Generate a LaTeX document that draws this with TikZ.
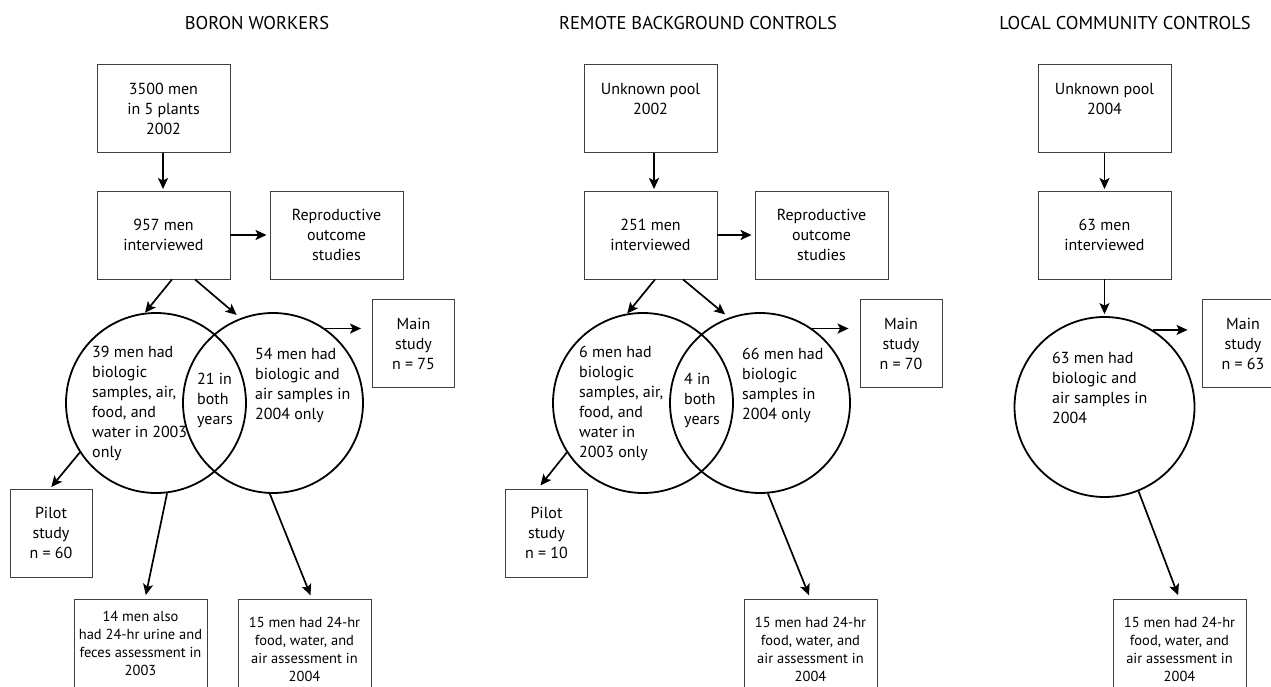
\documentclass[tikz,border=0pt]{standalone}
\usepackage{fontspec}
\setmainfont{PT Sans}
\usetikzlibrary{arrows.meta}
\begin{document}
\begin{tikzpicture}[x=1pt,y=-1pt,
 box/.style={draw=black!75, line width=0.9pt, minimum width=133pt, minimum height=88pt, align=center, inner sep=0pt, font=\fontsize{16}{20}\selectfont},
 sbox/.style={box, minimum width=82pt},
 bbox/.style={draw=black!75, line width=0.9pt, minimum width=133pt, minimum height=100pt, anchor=north, inner sep=0pt},
 btxt/.style={align=center, inner sep=0pt, font=\fontsize{14.5}{18}\selectfont},
 ctxt/.style={align=left, anchor=west, inner sep=0pt, font=\fontsize{16}{20}\selectfont},
 ttl/.style={font=\fontsize{18.5}{22}\selectfont, inner sep=0pt},
 venn/.style={circle, draw, line width=1.8pt, minimum size=180pt, inner sep=0pt},
 arr/.style={-{Stealth[length=11pt,width=10pt,inset=2.5pt]}, line width=1.7pt},
]
\useasboundingbox (0,0) rectangle (1271,687);
\clip (0,0) rectangle (1271,687);

% ---------------- BORON WORKERS ----------------
\node[ttl] (t1) at (257,23) {BORON WORKERS};
\node[box] (a1) at (163.5,108.5) {3500 men\\in 5 plants\\2002};
\node[box] (a2) at (163.5,235) {957 men\\interviewed};
\node[box] (a3) at (336.5,235) {Reproductive\\outcome\\studies};
\node[venn] (ac1) at (156,403) {};
\node[venn] (ac2) at (273,403) {};
\node[ctxt] (at1) at (92,403) {39 men had\\biologic\\samples, air,\\food, and\\water in 2003\\only};
\node[ctxt] (at2) at (197,400) {21 in\\both\\years};
\node[ctxt] (at3) at (255,385) {54 men had\\biologic and\\air samples in\\2004 only};
\node[sbox] (am) at (413.5,343.5) {Main\\study\\n = 75};
\node[sbox] (ap) at (51,533) {Pilot\\study\\n = 60};
\node[bbox] (ab1) at (140.5,599) {};
\node[btxt] (abt1) at (140.5,643) {14 men also\\had 24-hr urine and\\feces assessment in\\2003};
\node[bbox] (ab2) at (304.5,599) {};
\node[btxt] (abt2) at (304.5,649.5) {15 men had 24-hr\\food, water, and\\air assessment in\\2004};

\draw[arr, shorten >=1.5pt] ([xshift=-0.5pt]a1.south) -- ([xshift=-0.5pt]a2.north);
\draw[arr, shorten >=3pt] (a2.east) -- (a3.west);
\draw[arr] ([xshift=8.5pt]a2.south) -- (ac1.97);
\draw[arr, shorten >=5pt] ([xshift=31.5pt]a2.south) -- (ac2.111);
\draw[arr, shorten >=11pt] (ac2.55) -- (ac2.55 -| am.west);
\draw[arr, shorten >=2pt] (ac1.213) -- ([xshift=-1pt]ap.north);
\draw[arr, shorten >=4pt] (ac1.277) -- ([xshift=4.5pt]ab1.north);
\draw[arr, shorten >=4pt] (ac2.268) -- ([xshift=7.5pt]ab2.north);

% ---------------- REMOTE BACKGROUND CONTROLS ----------------
\node[ttl] (t2) at (698,23) {REMOTE BACKGROUND CONTROLS};
\node[box] (r1) at (650.5,108.5) {Unknown pool\\2002\\\mbox{}};
\node[box] (r2) at (650.5,235) {251 men\\interviewed};
\node[box] (r3) at (821.5,235) {Reproductive\\outcome\\studies};
\node[venn] (rc1) at (643,403) {};
\node[venn] (rc2) at (760,403) {};
\node[ctxt] (rt1) at (579,403) {6 men had\\biologic\\samples, air,\\food, and\\water in\\2003 only};
\node[ctxt] (rt2) at (684,400) {4 in\\both\\years};
\node[ctxt] (rt3) at (742,385) {66 men had\\biologic\\samples in\\2004 only};
\node[sbox] (rm) at (901,343.5) {Main\\study\\n = 70};
\node[sbox] (rp) at (546.5,533) {Pilot\\study\\n = 10};
\node[bbox] (rb) at (810.5,599) {};
\node[btxt] (rbt) at (810.5,649.5) {15 men had 24-hr\\food, water, and\\air assessment in\\2004};

\draw[arr, shorten >=1.5pt] ([xshift=3.5pt]r1.south) -- ([xshift=3.5pt]r2.north);
\draw[arr, shorten >=3pt] (r2.east) -- (r3.west);
\draw[arr] ([xshift=4.5pt]r2.south) -- (rc1.100);
\draw[arr, shorten >=5pt] ([xshift=32.5pt]r2.south) -- (rc2.110);
\draw[arr, shorten >=11pt] (rc2.55) -- (rc2.55 -| rm.west);
\draw[arr, shorten >=4pt] (rc1.213) -- ([xshift=-8.5pt]rp.north);
\draw[arr, shorten >=4pt] (rc2.275) -- (rb.north);

% ---------------- LOCAL COMMUNITY CONTROLS ----------------
\node[ttl] (t3) at (1125,23) {LOCAL COMMUNITY CONTROLS};
\node[box] (l1) at (1104.5,108.5) {Unknown pool\\2004\\\mbox{}};
\node[box] (l2) at (1104.5,235) {63 men\\interviewed};
\node[venn] (lc) at (1104.5,407) {};
\node[ctxt] (lt) at (1052,388) {63 men had\\biologic and\\air samples in\\2004};
\node[sbox] (lm) at (1243,343.5) {Main\\study\\n = 63};
\node[bbox] (lb) at (1179.5,599) {};
\node[btxt] (lbt) at (1179.5,649.5) {15 men had 24-hr\\food, water, and\\air assessment in\\2004};

\draw[arr, shorten >=1.5pt] (l1.south) -- (l2.north);
\draw[arr, shorten >=2pt] (l2.south) -- (lc.north);
\draw[arr, shorten >=14pt] (lc.58) -- (lc.58 -| lm.west);
\draw[arr, shorten >=4pt] (lc.292) -- (lb.north);
\end{tikzpicture}
\end{document}
